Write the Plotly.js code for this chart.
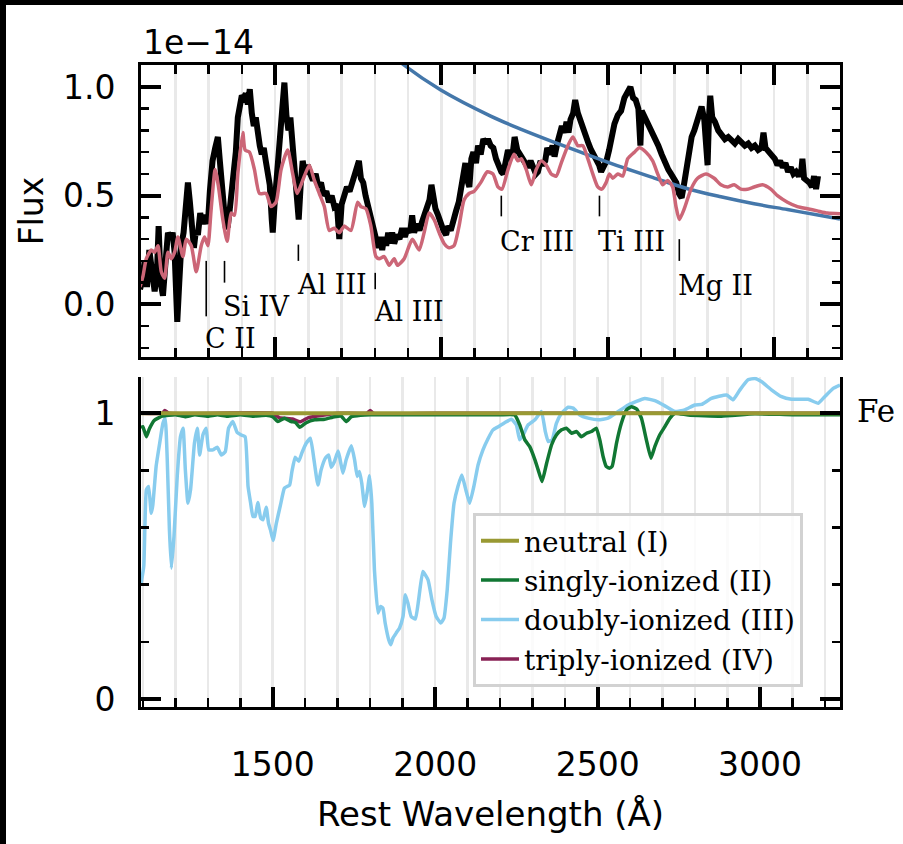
<!DOCTYPE html>
<html>
<head>
<meta charset="utf-8">
<script src="https://cdn.plot.ly/plotly-3.0.1.min.js"></script>
<style>html,body{margin:0;padding:0;background:#fff;}#chart{width:903px;height:844px;}</style>
</head>
<body>
<div id="chart"></div>
<script>
// ---------- Top panel: observed spectrum (units of 1e-14) ----------
const specWave = [1094,1100,1108,1115,1122,1130,1138,1145,1150,1156,1163,1170,1178,1186,1192,1198,1206,1212,1218,1225,1232,1238,1244,1250,1256,1262,1268,1275,1282,1290,1298,1304,1312,1320,1328,1334,1340,1346,1352,1358,1364,1370,1376,1382,1388,1394,1400,1406,1412,1418,1424,1430,1436,1442,1448,1454,1460,1466,1472,1478,1484,1490,1493,1498,1504,1510,1516,1522,1528,1534,1540,1546,1552,1558,1564,1571,1577,1583,1590,1598,1606,1614,1622,1630,1638,1646,1654,1662,1670,1678,1686,1693,1700,1708,1716,1724,1732,1740,1746,1752,1758,1765,1772,1780,1788,1796,1803,1810,1816,1822,1828,1834,1840,1846,1852,1858,1866,1874,1882,1890,1898,1906,1912,1918,1926,1934,1942,1950,1958,1964,1970,1976,1982,1990,1998,2006,2014,2020,2028,2036,2044,2052,2060,2066,2072,2078,2084,2090,2096,2104,2110,2118,2126,2134,2140,2148,2156,2164,2172,2180,2186,2194,2200,2208,2214,2220,2228,2236,2244,2252,2260,2268,2276,2284,2290,2298,2304,2312,2318,2326,2334,2340,2348,2356,2362,2370,2376,2382,2388,2396,2402,2410,2418,2426,2434,2442,2450,2458,2466,2474,2480,2488,2496,2504,2512,2520,2530,2540,2550,2560,2568,2576,2584,2592,2598,2602,2612,2622,2632,2642,2652,2662,2672,2682,2690,2698,2706,2714,2722,2730,2736,2744,2752,2760,2768,2776,2782,2790,2798,2800,2804,2808,2814,2822,2832,2842,2852,2862,2872,2882,2892,2902,2912,2922,2932,2942,2952,2962,2968,2974,2984,2994,3002,3010,3018,3026,3034,3042,3050,3058,3066,3074,3082,3085,3090,3098,3106,3114,3120,3126,3132];
const specFlux = [0.07,0.10,0.20,0.08,0.25,0.12,0.06,0.15,0.36,0.10,0.04,0.18,0.33,0.30,0.33,0.24,-0.08,0.10,0.27,0.33,0.45,0.56,0.47,0.36,0.26,0.34,0.32,0.42,0.37,0.41,0.37,0.52,0.66,0.72,0.77,0.66,0.58,0.45,0.35,0.36,0.44,0.54,0.58,0.70,0.86,0.92,0.96,0.95,0.97,0.92,0.99,0.88,0.82,0.86,0.76,0.73,0.69,0.72,0.66,0.62,0.55,0.39,0.33,0.45,0.56,0.70,0.80,0.88,1.02,0.87,0.80,0.86,0.73,0.66,0.52,0.39,0.55,0.66,0.60,0.64,0.60,0.57,0.60,0.54,0.56,0.50,0.52,0.47,0.50,0.45,0.46,0.30,0.46,0.50,0.54,0.52,0.56,0.58,0.63,0.66,0.58,0.56,0.50,0.45,0.40,0.34,0.30,0.26,0.31,0.25,0.31,0.27,0.33,0.28,0.33,0.28,0.32,0.30,0.35,0.31,0.35,0.33,0.41,0.33,0.37,0.34,0.38,0.42,0.45,0.48,0.55,0.47,0.44,0.41,0.37,0.34,0.32,0.36,0.34,0.40,0.43,0.47,0.53,0.58,0.65,0.57,0.54,0.67,0.70,0.65,0.73,0.69,0.76,0.74,0.76,0.73,0.72,0.67,0.63,0.61,0.60,0.66,0.71,0.68,0.69,0.77,0.71,0.69,0.67,0.65,0.63,0.66,0.63,0.60,0.61,0.66,0.64,0.66,0.72,0.69,0.73,0.68,0.74,0.79,0.82,0.79,0.84,0.79,0.85,0.88,0.94,0.88,0.84,0.81,0.77,0.74,0.71,0.69,0.66,0.64,0.61,0.63,0.66,0.71,0.77,0.83,0.87,0.89,0.95,0.98,1.00,0.95,0.94,0.90,0.73,0.89,0.86,0.83,0.80,0.77,0.73,0.69,0.65,0.62,0.60,0.58,0.56,0.51,0.49,0.56,0.62,0.71,0.77,0.80,0.84,0.88,0.91,0.85,0.67,0.64,0.85,0.96,0.86,0.84,0.80,0.78,0.76,0.77,0.75,0.74,0.76,0.74,0.73,0.74,0.72,0.73,0.71,0.72,0.79,0.72,0.70,0.69,0.67,0.64,0.66,0.63,0.65,0.61,0.63,0.60,0.61,0.59,0.62,0.67,0.58,0.57,0.56,0.54,0.59,0.53,0.59];

// ---------- Top panel: model spectrum ----------
const modelWave = [1094,1103,1113,1128,1138,1148,1158,1168,1178,1188,1198,1208,1223,1233,1248,1263,1278,1288,1298,1308,1320,1330,1343,1356,1368,1378,1388,1403,1410,1423,1438,1453,1473,1488,1503,1518,1538,1553,1566,1583,1603,1618,1633,1648,1663,1678,1693,1708,1728,1748,1758,1773,1788,1803,1813,1828,1843,1858,1868,1888,1903,1913,1933,1948,1963,1978,1993,2008,2023,2038,2053,2068,2083,2098,2118,2138,2155,2170,2182,2200,2218,2230,2240,2255,2270,2285,2300,2315,2330,2345,2360,2380,2395,2410,2425,2440,2455,2470,2482,2495,2505,2515,2530,2545,2560,2580,2595,2615,2635,2650,2665,2680,2695,2705,2715,2730,2750,2770,2795,2820,2840,2860,2880,2900,2920,2940,2965,2990,3010,3040,3070,3100,3130,3160,3198];
const modelFlux = [0.08,0.13,0.21,0.25,0.24,0.27,0.15,0.12,0.24,0.21,0.24,0.31,0.22,0.30,0.27,0.15,0.27,0.31,0.27,0.44,0.62,0.54,0.39,0.29,0.42,0.41,0.60,0.79,0.71,0.70,0.62,0.51,0.51,0.45,0.47,0.62,0.71,0.60,0.51,0.57,0.64,0.57,0.51,0.45,0.34,0.35,0.33,0.36,0.34,0.47,0.45,0.44,0.36,0.22,0.21,0.22,0.18,0.21,0.18,0.21,0.27,0.30,0.25,0.33,0.42,0.39,0.33,0.28,0.26,0.27,0.36,0.48,0.51,0.52,0.56,0.61,0.60,0.54,0.53,0.62,0.69,0.66,0.67,0.62,0.55,0.62,0.66,0.64,0.60,0.59,0.65,0.73,0.77,0.73,0.73,0.67,0.60,0.54,0.53,0.56,0.60,0.58,0.60,0.59,0.67,0.70,0.72,0.70,0.66,0.60,0.55,0.57,0.54,0.45,0.39,0.44,0.53,0.58,0.60,0.58,0.55,0.54,0.55,0.53,0.53,0.54,0.55,0.53,0.50,0.47,0.45,0.44,0.43,0.42,0.417];

// ---------- Top panel: power-law continuum ----------
const contWave = [1850,1888,1998,2148,2240,2340,2440,2540,2640,2740,2840,2940,3040,3140,3198];
const contFlux = [1.15,1.10,0.986,0.866,0.805,0.745,0.688,0.632,0.581,0.532,0.495,0.463,0.436,0.409,0.393];

// ---------- Top panel: line identifications ----------
const lineNames = ["C II","Si IV","Al III","Al III","Cr III","Ti III","Mg II"];
const lineWaves = [1293,1348,1570,1801,2180,2475,2715];
const lineTops  = [0.20,0.20,0.275,0.145,0.50,0.50,0.30];
const lineBots  = [-0.055,0.10,0.20,0.07,0.405,0.405,0.20];
const labelFlux = [-0.157,-0.01,0.092,-0.035,0.291,0.291,0.086];

// ---------- Bottom panel: Fe ionization transmission ----------
const ionNames = ["neutral (I)","singly-ionized (II)","doubly-ionized (III)","triply-ionized (IV)"];
const fe1Wave = [1094,1500,2000,2500,3000,3246];
const fe1Val  = [1.0,1.0,1.0,1.0,1.0,1.0];
const fe2Wave = [1094,1100,1111,1120,1135,1160,1200,1230,1260,1300,1330,1360,1400,1440,1480,1500,1516,1536,1557,1570,1583,1603,1629,1660,1690,1711,1726,1742,1770,1800,1850,1900,2000,2100,2200,2245,2260,2276,2291,2307,2317,2329,2343,2358,2373,2389,2404,2420,2435,2450,2466,2481,2496,2507,2517,2527,2537,2545,2558,2573,2589,2604,2620,2635,2650,2664,2676,2691,2707,2722,2738,2779,2881,2984,3100,3246];
const fe2Val  = [0.95,0.953,0.918,0.945,0.975,0.99,0.995,0.988,0.995,0.99,0.995,0.99,0.995,0.99,0.993,0.988,0.971,0.983,0.971,0.968,0.951,0.967,0.977,0.979,0.988,0.990,0.971,0.988,0.993,0.995,0.995,0.995,0.995,0.995,0.995,0.994,0.96,0.907,0.883,0.837,0.802,0.761,0.825,0.889,0.924,0.942,0.948,0.930,0.936,0.918,0.930,0.936,0.948,0.905,0.848,0.813,0.808,0.815,0.895,0.965,1.012,1.023,1.015,0.982,0.907,0.843,0.883,0.924,0.953,0.982,1.0,0.994,0.99,0.998,0.995,0.995];
const fe3Wave = [1094,1103,1111,1118,1126,1131,1141,1152,1162,1169,1175,1182,1188,1196,1206,1216,1224,1231,1239,1247,1259,1268,1275,1285,1295,1303,1316,1329,1342,1354,1364,1377,1391,1403,1415,1424,1432,1439,1446,1454,1463,1470,1480,1487,1493,1501,1511,1524,1536,1552,1559,1569,1580,1590,1603,1616,1627,1639,1649,1662,1672,1680,1690,1701,1706,1716,1726,1742,1752,1760,1767,1774,1783,1791,1798,1805,1813,1824,1832,1839,1846,1857,1863,1870,1880,1890,1901,1908,1916,1926,1939,1949,1962,1978,1990,2003,2017,2027,2037,2047,2058,2070,2082,2093,2106,2119,2132,2147,2163,2178,2194,2214,2235,2250,2260,2271,2286,2307,2327,2339,2348,2360,2373,2389,2409,2425,2445,2471,2502,2532,2563,2594,2645,2676,2707,2738,2768,2799,2820,2850,2897,2917,2938,2963,2984,3004,3035,3066,3097,3148,3179,3199,3225,3246];
const fe3Val  = [0.40,0.464,0.732,0.744,0.650,0.680,0.814,0.895,0.965,0.983,0.848,0.592,0.458,0.569,0.779,0.918,0.948,0.802,0.685,0.732,0.895,0.948,0.854,0.924,0.948,0.872,0.872,0.881,0.854,0.866,0.948,0.971,0.932,0.924,0.918,0.744,0.685,0.639,0.639,0.688,0.633,0.627,0.671,0.615,0.592,0.555,0.615,0.680,0.738,0.749,0.796,0.846,0.832,0.862,0.895,0.913,0.837,0.749,0.802,0.843,0.854,0.811,0.831,0.868,0.846,0.790,0.837,0.886,0.837,0.779,0.796,0.755,0.674,0.726,0.781,0.685,0.452,0.301,0.324,0.318,0.266,0.207,0.190,0.213,0.231,0.248,0.289,0.365,0.336,0.289,0.280,0.347,0.446,0.417,0.347,0.289,0.266,0.283,0.382,0.545,0.685,0.744,0.784,0.738,0.685,0.744,0.819,0.872,0.912,0.942,0.953,0.967,0.979,0.959,0.907,0.925,0.959,0.977,1.006,0.936,0.901,0.907,0.965,1.0,1.021,1.018,0.994,0.983,0.977,0.983,1.006,1.029,1.052,1.044,1.026,1.006,1.012,1.029,1.031,1.052,1.064,1.047,1.082,1.117,1.122,1.111,1.082,1.058,1.049,1.049,1.035,1.058,1.087,1.099];
const fe4Wave = [1094,1160,1168,1180,1500,1520,1560,1585,1610,1700,1790,1800,1810,2000,3246];
const fe4Val  = [1.0,1.0,1.01,1.0,1.0,0.985,0.98,0.97,0.985,1.0,1.0,1.01,1.0,1.0,1.0];

// ---------- Axis ticks ----------
const topYTicks = [0, 0.5, 1.0];
const topYText  = ["0.0","0.5","1.0"];
const botYTicks = [0, 1];
const botYText  = ["0","1"];

// ---------- Styles ----------
const W = 903, H = 844;
const px = v => v / W, py = v => 1 - v / H;
const SANS = "DejaVu Sans, sans-serif";
const SERIF = "DejaVu Serif, serif";
const GRID = "#e9e9e9";
const C = {spec:"#000000", model:"#CC6677", cont:"#4477AA",
           fe1:"#999933", fe2:"#117733", fe3:"#88CCEE", fe4:"#882255"};

const traces = [];
traces.push({x:specWave, y:specFlux, xaxis:"x", yaxis:"y", mode:"lines",
  line:{color:C.spec, width:6}, showlegend:false, hoverinfo:"skip"});
traces.push({x:contWave, y:contFlux, xaxis:"x", yaxis:"y", mode:"lines",
  line:{color:C.cont, width:3.5, shape:"spline"}, showlegend:false, hoverinfo:"skip"});
traces.push({x:modelWave, y:modelFlux, xaxis:"x", yaxis:"y", mode:"lines",
  line:{color:C.model, width:3.5, shape:"spline", smoothing:0.6}, showlegend:false, hoverinfo:"skip"});

// line ID ticks
const lx = [], ly = [];
lineWaves.forEach((w, i) => { lx.push(w, w, null); ly.push(lineTops[i], lineBots[i], null); });
traces.push({x:lx, y:ly, xaxis:"x", yaxis:"y", mode:"lines",
  line:{color:"#000", width:1.6}, showlegend:false, hoverinfo:"skip"});

// bottom panel (drawn IV, III, II, I so that neutral sits on top)
const ionSeries = [[fe1Wave,fe1Val,C.fe1,4],[fe2Wave,fe2Val,C.fe2,3.5],[fe3Wave,fe3Val,C.fe3,3.5],[fe4Wave,fe4Val,C.fe4,3.5]];
for (let i = 3; i >= 0; i--) {
  const s = ionSeries[i];
  traces.push({x:s[0], y:s[1], xaxis:"x2", yaxis:"y2", mode:"lines", name:ionNames[i],
    line:{color:s[2], width:s[3], shape:"spline", smoothing:0.4}, hoverinfo:"skip"});
}

const xCommon = {
  showline:true, linecolor:"#000", linewidth:3, zeroline:false,
  ticks:"inside", ticklen:20, tickwidth:4, tickcolor:"#000",
  tickmode:"linear", tick0:0, dtick:500,
  showgrid:true, gridcolor:GRID, gridwidth:2.5,
  minor:{dtick:100, tick0:0, ticks:"inside", ticklen:9, tickwidth:2.5, tickcolor:"#000",
         showgrid:true, gridcolor:GRID, gridwidth:2.5},
  tickfont:{family:SANS, size:33, color:"#000"}
};
const yCommon = {
  showline:true, linecolor:"#000", linewidth:3, zeroline:false, showgrid:false,
  ticks:"inside", ticklen:20, tickwidth:4, tickcolor:"#000", tickmode:"array",
  mirror:"allticks", ticklabelstandoff:16,
  tickfont:{family:SANS, size:33, color:"#000"}
};

const annotations = [
  {text:"1e\u221214", xref:"paper", yref:"paper", x:px(141), y:py(42), xanchor:"left", yanchor:"middle",
   showarrow:false, font:{family:SANS, size:33, color:"#000"}},
  {text:"Fe", xref:"paper", yref:"paper", x:px(855), y:py(411), xanchor:"left", yanchor:"middle",
   showarrow:false, font:{family:SERIF, size:31, color:"#000"}}
];
lineNames.forEach((n, i) => annotations.push({
  text:n, xref:"x", yref:"y", x:lineWaves[i] - 10, y:labelFlux[i], xanchor:"left", yanchor:"middle",
  showarrow:false, font:{family:SERIF, size:27, color:"#000"}
}));

const layout = {
  width:W, height:H, margin:{l:0, r:0, t:0, b:0},
  paper_bgcolor:"#fff", plot_bgcolor:"rgba(0,0,0,0)",
  showlegend:true,
  legend:{x:px(473), y:py(513), xanchor:"left", yanchor:"top", traceorder:"reversed",
    bgcolor:"rgba(255,255,255,0.8)", bordercolor:"#d2d2d2", borderwidth:3,
    font:{family:SERIF, size:28, color:"#000"}, itemwidth:38, tracegroupgap:0},
  xaxis:Object.assign({}, xCommon, {domain:[px(141), px(840)], range:[1097, 3198], anchor:"y",
    showticklabels:false, mirror:"allticks"}),
  yaxis:Object.assign({}, yCommon, {domain:[py(357), py(65)], range:[-0.242, 1.101], anchor:"x",
    tickvals:topYTicks, ticktext:topYText,
    minor:{dtick:0.1, tick0:0, ticks:"inside", ticklen:8, tickwidth:2.5, tickcolor:"#000", showgrid:false},
    title:{text:"Flux", font:{family:SANS, size:33, color:"#000"}, standoff:10}}),
  xaxis2:Object.assign({}, xCommon, {domain:[px(141), px(840)], range:[1094.5, 3246], anchor:"y2",
    showticklabels:true, ticklabelstandoff:26,
    title:{text:"Rest Wavelength (\u00C5)", font:{family:SANS, size:34, color:"#000"}, standoff:20}}),
  yaxis2:Object.assign({}, yCommon, {domain:[py(707), py(376.7)], range:[-0.028, 1.128], anchor:"x2",
    tickvals:botYTicks, ticktext:botYText,
    minor:{dtick:0.2, tick0:0, ticks:"inside", ticklen:8, tickwidth:2.5, tickcolor:"#000", showgrid:false}}),
  annotations:annotations,
  shapes:[
    {type:"rect", xref:"paper", yref:"paper", x0:0, x1:px(6), y0:0, y1:1, fillcolor:"#000", line:{width:0}, layer:"above"},
    {type:"rect", xref:"paper", yref:"paper", x0:0, x1:1, y0:py(5), y1:1, fillcolor:"#000", line:{width:0}, layer:"above"}
  ]
};

Plotly.newPlot("chart", traces, layout, {staticPlot:true, displayModeBar:false});
</script>
</body>
</html>
